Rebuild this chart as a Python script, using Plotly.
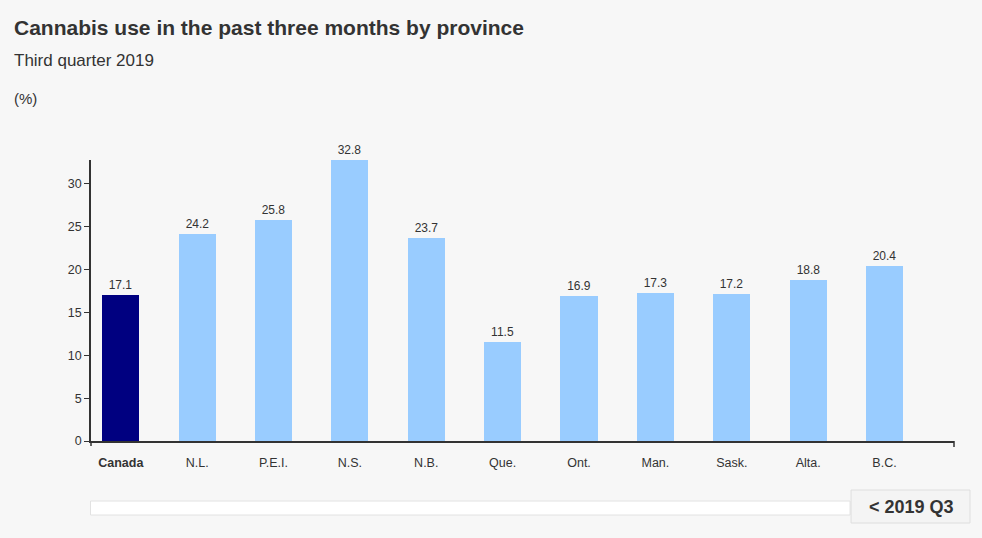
import plotly.graph_objects as go

# Cannabis use in the past three months, third quarter 2019 (%)
regions = ["Canada", "N.L.", "P.E.I.", "N.S.", "N.B.", "Que.", "Ont.", "Man.", "Sask.", "Alta.", "B.C."]
values = [17.1, 24.2, 25.8, 32.8, 23.7, 11.5, 16.9, 17.3, 17.2, 18.8, 20.4]
tick_labels = ["<b>Canada</b>"] + regions[1:]
y_ticks = [0, 5, 10, 15, 20, 25, 30]

NATIONAL = "#000080"
PROVINCE = "#99ccff"
BG = "#f7f7f7"
INK = "#333333"
FONT = "Liberation Sans, Arial, sans-serif"

W, H = 982, 538
L, R, T, B = 90.5, 954, 160, 441  # plot area edges in pixels

def px(x):
    return (x - L) / (R - L)

def py(y):
    return (B - y) / (B - T)

colors = [NATIONAL if r == "Canada" else PROVINCE for r in regions]

fig = go.Figure(
    go.Bar(
        x=list(range(len(regions))),
        y=values,
        marker=dict(color=colors, line=dict(width=0)),
        width=0.485,
        text=[f"{v:.1f}" for v in values],
        textposition="outside",
        textfont=dict(size=12, color=INK, family=FONT),
        cliponaxis=False,
        hoverinfo="x+y",
    )
)

fig.update_layout(
    width=W,
    height=H,
    margin=dict(l=L, r=W - R, t=T, b=H - B, pad=0),
    paper_bgcolor=BG,
    plot_bgcolor=BG,
    font=dict(family=FONT, color=INK, size=12),
    showlegend=False,
    bargap=0,
)

fig.update_xaxes(
    range=[-0.39, 10.91],
    tickmode="array",
    tickvals=list(range(len(regions))),
    ticktext=tick_labels,
    ticks="outside",
    ticklen=9,
    tickcolor="rgba(0,0,0,0)",
    tickfont=dict(size=12.5, color=INK),
    showline=True,
    linecolor=INK,
    linewidth=1.5,
    showgrid=False,
    zeroline=False,
    fixedrange=True,
)

fig.update_yaxes(
    range=[0, 32.8],
    tickmode="array",
    tickvals=y_ticks,
    ticks="outside",
    ticklen=5,
    tickwidth=1.2,
    tickcolor=INK,
    tickfont=dict(size=12.5, color=INK),
    showline=True,
    linecolor=INK,
    linewidth=1.5,
    showgrid=False,
    zeroline=False,
    fixedrange=True,
)

shapes = [
    # small end ticks on the category axis
    dict(type="line", xref="paper", yref="paper", x0=0, x1=0, y0=0, y1=py(446),
         line=dict(color=INK, width=1.5)),
    dict(type="line", xref="paper", yref="paper", x0=1, x1=1, y0=0, y1=py(447),
         line=dict(color=INK, width=1.5)),
    # period slider track
    dict(type="rect", xref="paper", yref="paper", x0=px(90), x1=px(850), y0=py(501), y1=py(515),
         fillcolor="#ffffff", line=dict(color="#e2e2e2", width=1)),
    # period button
    dict(type="rect", xref="paper", yref="paper", x0=px(851), x1=px(970), y0=py(490), y1=py(523),
         fillcolor="#f4f4f4", line=dict(color="#dedede", width=1)),
]

annotations = [
    dict(text="<b>Cannabis use in the past three months by province</b>",
         x=px(11), y=py(27), xref="paper", yref="paper", xanchor="left", yanchor="middle",
         showarrow=False, font=dict(size=21, color=INK)),
    dict(text="Third quarter 2019",
         x=px(11), y=py(61), xref="paper", yref="paper", xanchor="left", yanchor="middle",
         showarrow=False, font=dict(size=17, color=INK)),
    dict(text="(%)",
         x=px(11), y=py(98), xref="paper", yref="paper", xanchor="left", yanchor="middle",
         showarrow=False, font=dict(size=15, color=INK)),
    dict(text="<b>< 2019 Q3</b>",
         x=px(911), y=py(507), xref="paper", yref="paper", xanchor="center", yanchor="middle",
         showarrow=False, font=dict(size=18, color=INK)),
]

fig.update_layout(shapes=shapes, annotations=annotations)

fig.write_html("out.html", config={"displayModeBar": False})
